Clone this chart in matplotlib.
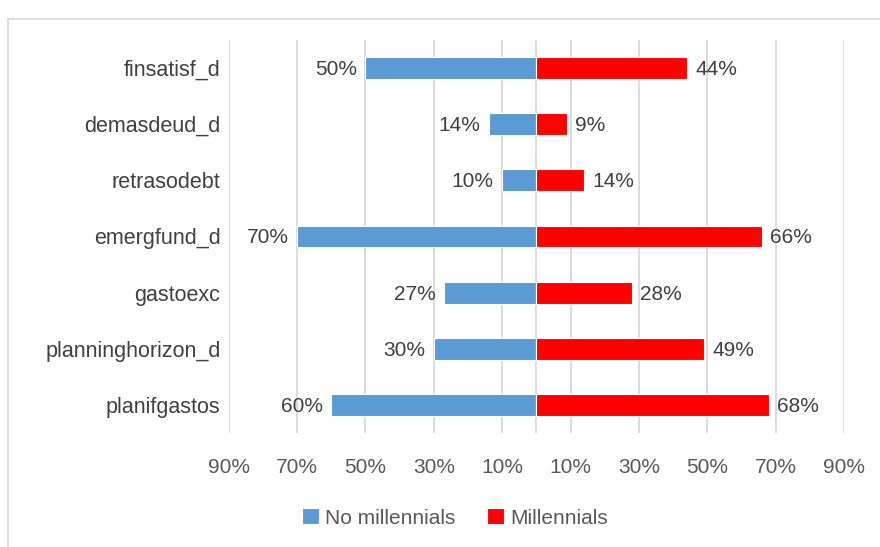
import matplotlib.pyplot as plt
from matplotlib.patches import Rectangle

categories = ['finsatisf_d', 'demasdeud_d', 'retrasodebt', 'emergfund_d',
              'gastoexc', 'planninghorizon_d', 'planifgastos']
no_millennials = [50, 14, 10, 70, 27, 30, 60]
millennials = [44, 9, 14, 66, 28, 49, 68]
tick_values = [-90, -70, -50, -30, -10, 10, 30, 50, 70, 90]
tick_labels = ['90%', '70%', '50%', '30%', '10%', '10%', '30%', '50%', '70%', '90%']

blue = '#5B9BD5'
red = '#FF0000'
grid_col = '#D9D9D9'
txt_col = '#595959'

plt.rcParams['font.family'] = ['Liberation Sans', 'DejaVu Sans']

fig = plt.figure(figsize=(8.8, 5.47), dpi=100)
ax = fig.add_axes([0.260, 0.2084, 0.699, 0.7186])

y = list(range(len(categories)))
left_vals = [-v for v in no_millennials]
b1 = ax.barh(y, left_vals, height=0.39, color=blue, edgecolor='white', linewidth=0.8,
             label='No millennials', zorder=3)
b2 = ax.barh(y, millennials, height=0.39, color=red, edgecolor='white', linewidth=0.8,
             label='Millennials', zorder=3)

# data labels outside bar ends
for yi, v in zip(y, no_millennials):
    ax.annotate(f'{v}%', (-v, yi), xytext=(-6, -1), textcoords='offset points',
                ha='right', va='center', fontsize=15, color='#404040')
for yi, v in zip(y, millennials):
    ax.annotate(f'{v}%', (v, yi), xytext=(6, -1), textcoords='offset points',
                ha='left', va='center', fontsize=15, color='#404040')

ax.set_xlim(-90, 90)
ax.set_ylim(len(categories) - 0.5, -0.5)
ax.set_xticks(tick_values)
ax.set_xticklabels(tick_labels, fontsize=15, color=txt_col)
ax.set_yticks(y)
ax.set_yticklabels(categories, fontsize=15.5, color='#404040')
ax.tick_params(axis='x', length=0, pad=18)
ax.tick_params(axis='y', length=0, pad=6)
for x in tick_values + [0]:
    ax.axvline(x, color=grid_col, linewidth=1.3, zorder=1)
for s in ax.spines.values():
    s.set_visible(False)

leg = fig.legend(handles=[b1, b2], loc='center', bbox_to_anchor=(0.517, 0.053), ncol=2,
                 frameon=False, fontsize=15, handlelength=0.8, handleheight=0.8,
                 handletextpad=0.3, columnspacing=1.5)
for t in leg.get_texts():
    t.set_color(txt_col)

# chart area border (clipped on right and bottom like the reference)
fig.patches.append(Rectangle((8 / 880, -0.1), 1.2, 1.1 - 19 / 547, transform=fig.transFigure,
                             fill=False, edgecolor=grid_col, linewidth=1.2))

fig.savefig('out.png', dpi=100)
